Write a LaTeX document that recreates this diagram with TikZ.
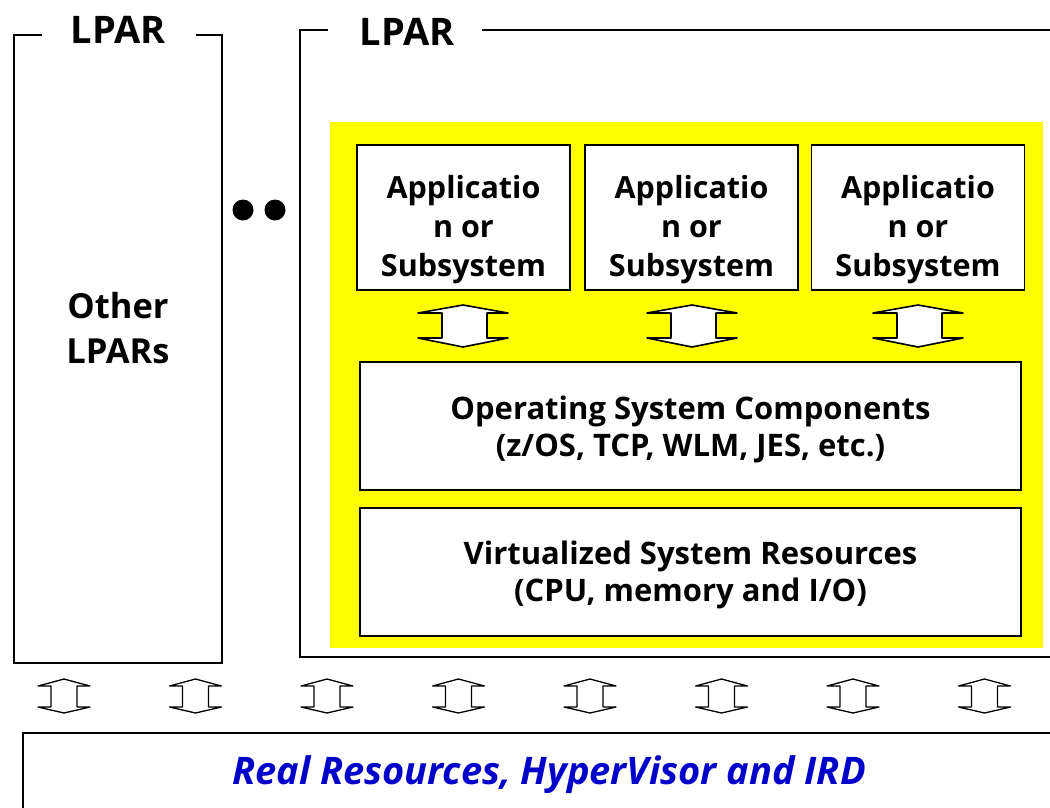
\documentclass[tikz,border=0pt]{standalone}
\usepackage{fontspec}
\setmainfont{Open Sans}
\usepackage{tikz}
\usetikzlibrary{calc}
\definecolor{hiyellow}{HTML}{FFFF00}
\definecolor{realblue}{HTML}{0000C8}
\tikzset{
  frame/.style={draw=black, line width=1.4pt},
  box/.style={draw=black, fill=white, line width=1.6pt, inner sep=0pt},
  appbox/.style={box, minimum width=213pt, minimum height=145pt},
  osbox/.style={box, minimum width=661pt, minimum height=128pt},
  apptext/.style={align=center, font=\fontsize{30.5}{39}\selectfont\bfseries},
  ostext/.style={align=center, font=\fontsize{31}{37}\selectfont\bfseries},
  title/.style={font=\fontsize{38}{44}\selectfont\bfseries},
  dot/.style={circle, fill=black, inner sep=0pt, minimum size=21pt},
  updown/.pic={
    \draw[line width=1.6pt, fill=white, line join=round]
      (-45,-13) -- (0,-21) -- (45,-13) -- (24,-13) -- (24,12) -- (45,12)
      -- (0,21) -- (-45,12) -- (-21,12) -- (-21,-13) -- cycle;
  },
  smallupdown/.pic={
    \draw[line width=1.3pt, fill=white, line join=round]
      (-26,-10) -- (0,-17) -- (26,-10) -- (13,-10) -- (13,11) -- (26,11)
      -- (0,17) -- (-26,11) -- (-13,11) -- (-13,-10) -- cycle;
  },
}

\begin{document}
\begin{tikzpicture}[x=1pt,y=-1pt]
  \useasboundingbox (0,0) rectangle (1050,807);

  % other LPARs
  \draw[frame] (42,35) -- (14,35) -- (14,663) -- (222,663) -- (222,35) -- (196,35);
  \node[title] (lparA) at (118,30) {LPAR};
  \node[font=\fontsize{34.5}{45}\selectfont\bfseries, align=center] (others) at (118,328) {Other\\LPARs};
  \node[dot] (dotA) at (243,210) {};
  \node[dot] (dotB) at (275,210) {};

  % this LPAR
  \draw[frame] (328,30) -- (300,30) -- (300,657) -- (1060,657);
  \draw[frame] (482,30) -- (1060,30);
  \node[title] (lparB) at (407,32) {LPAR};
  \fill[hiyellow] (330,122) rectangle (1043,648);

  \node[appbox] (appA) at (463.5,217.5) {};
  \node[appbox] (appB) at (691.5,217.5) {};
  \node[appbox] (appC) at (918,217.5) {};
  \foreach \a in {appA,appB,appC}
    \node[apptext] at ($(\a)+(0,12)$) {Applicatio\\n or\\Subsystem};

  \pic at (463,326) {updown};
  \pic at (692,326) {updown};
  \pic at (918,326) {updown};

  \node[osbox] (os) at (690.5,426) {};
  \node[ostext] at ($(os)+(0,3)$) {Operating System Components\\(z/OS, TCP, WLM, JES, etc.)};
  \node[osbox] (vsr) at (690.5,572) {};
  \node[ostext] at ($(vsr)+(0,3)$) {Virtualized System Resources\\(CPU, memory and I/O)};

  % hypervisor level
  \foreach \x in {64,195.5,327,458.5,590,721.5,853,984.5}
    \pic at (\x,696) {smallupdown};

  \draw[frame, fill=white] (1060,733) -- (23,733) -- (23,820);
  \node[text=realblue, font=\fontsize{38}{44}\selectfont\bfseries\itshape] (real) at (549,775)
    {Real Resources, HyperVisor and IRD};
\end{tikzpicture}
\end{document}
